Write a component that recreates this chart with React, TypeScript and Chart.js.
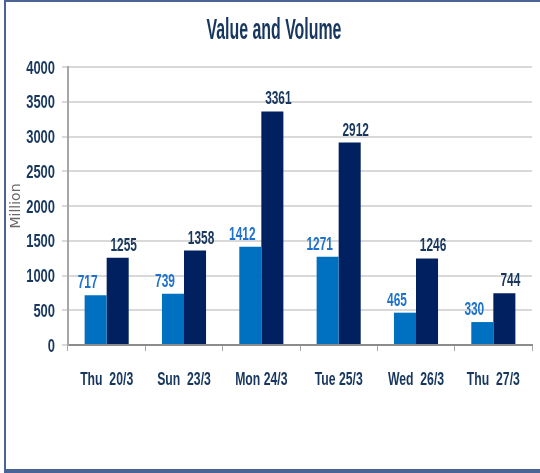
import React, { useEffect, useRef } from "react";
import { Chart, registerables } from "chart.js";

Chart.register(...registerables);

const categories = ["Thu  20/3", "Sun  23/3", "Mon 24/3", "Tue 25/3", "Wed  26/3", "Thu  27/3"];
const valueSeries = [717, 739, 1412, 1271, 465, 330];
const volumeSeries = [1255, 1358, 3361, 2912, 1246, 744];
const yTicks = [0, 500, 1000, 1500, 2000, 2500, 3000, 3500, 4000];
const chartTitle = "Value and Volume";

const FONT = '"Liberation Sans", Arial, sans-serif';
const NAVY = "#17375E";
const LIGHT_LABEL = "#1F72CC";

function squishText(ctx: any, text: string, x: number, y: number, size: number, sx: number, align: string, color: string) {
  ctx.save();
  ctx.font = `bold ${size}px ${FONT}`;
  ctx.fillStyle = color;
  ctx.textBaseline = "alphabetic";
  ctx.textAlign = align;
  ctx.translate(x, y);
  ctx.scale(sx, 1);
  ctx.fillText(text, 0, 0);
  ctx.restore();
}

const textPlugin = {
  id: "squishedText",
  afterDatasetsDraw(chart: any) {
    const ctx = chart.ctx;
    const xs = chart.scales.x;
    const ys = chart.scales.y;
    squishText(ctx, chartTitle, 274, 39, 30, 0.53, "center", NAVY);
    yTicks.forEach((v) => {
      squishText(ctx, String(v), 55, ys.getPixelForValue(v) + 6.5, 18, 0.72, "right", NAVY);
    });
    categories.forEach((c, i) => {
      squishText(ctx, c, xs.getPixelForValue(i), 385, 18, 0.68, "center", NAVY);
    });
    chart.data.datasets.forEach((ds: any, di: number) => {
      const meta = chart.getDatasetMeta(di);
      meta.data.forEach((bar: any, i: number) => {
        const dx = di === 0 ? -8 : 6;
        squishText(ctx, String(ds.data[i]), bar.x + dx, bar.y - 7, 18, 0.66, "center", di === 0 ? LIGHT_LABEL : NAVY);
      });
    });
  },
};

export default function App() {
  const ref = useRef<HTMLCanvasElement>(null);
  useEffect(() => {
    if (!ref.current) return;
    const chart = new Chart(ref.current, {
      type: "bar",
      data: {
        labels: categories,
        datasets: [
          { label: "Value", data: valueSeries, backgroundColor: "#0070C0", barPercentage: 1, categoryPercentage: 0.57 },
          { label: "Volume", data: volumeSeries, backgroundColor: "#002060", barPercentage: 1, categoryPercentage: 0.57 },
        ],
      },
      options: {
        animation: false,
        responsive: false,
        maintainAspectRatio: false,
        layout: { padding: { left: 4, right: 8, top: 67, bottom: 78 } },
        plugins: {
          legend: { display: false },
          tooltip: { enabled: false },
          title: { display: false },
        },
        scales: {
          x: {
            grid: { display: true, drawOnChartArea: false, offset: true, tickLength: 6, color: "#A6A6A6" },
            border: { color: "#8C8C8C", width: 2 },
            ticks: { color: "rgba(0,0,0,0)", font: { size: 10 }, maxRotation: 0, minRotation: 0, autoSkip: false },
            afterFit(scale: any) { scale.height = 50; },
          },
          y: {
            min: 0,
            max: 4000,
            afterBuildTicks(scale: any) { scale.ticks = yTicks.map((v) => ({ value: v })); },
            grid: { color: "#D9D9D9", lineWidth: 2, tickLength: 6 },
            border: { color: "#A6A6A6", width: 2 },
            ticks: { color: "rgba(0,0,0,0)", font: { size: 10 }, callback: (v: any) => String(v) },
            title: { display: true, text: "Million", color: "#6A6A6A", font: { family: '"DejaVu Sans", sans-serif', size: 14 }, padding: { top: 4, bottom: 0 } },
            afterFit(scale: any) { scale.width = 64; },
          },
        },
      },
      plugins: [textPlugin],
    });
    return () => chart.destroy();
  }, []);
  const line = "#4A6496";
  return (
    <div style={{ position: "fixed", left: 0, top: 0, width: 540, height: 473, background: "#fff", overflow: "hidden" }}>
      <div style={{ position: "absolute", left: 4, top: 0, width: 536, height: 2, background: line }} />
      <div style={{ position: "absolute", left: 4, top: 0, width: 2, height: 473, background: line }} />
      <div style={{ position: "absolute", left: 4, top: 469, width: 536, height: 4, background: line }} />
      <canvas ref={ref} width={540} height={473} style={{ position: "absolute", left: 0, top: 0, width: 540, height: 473 }} />
    </div>
  );
}
